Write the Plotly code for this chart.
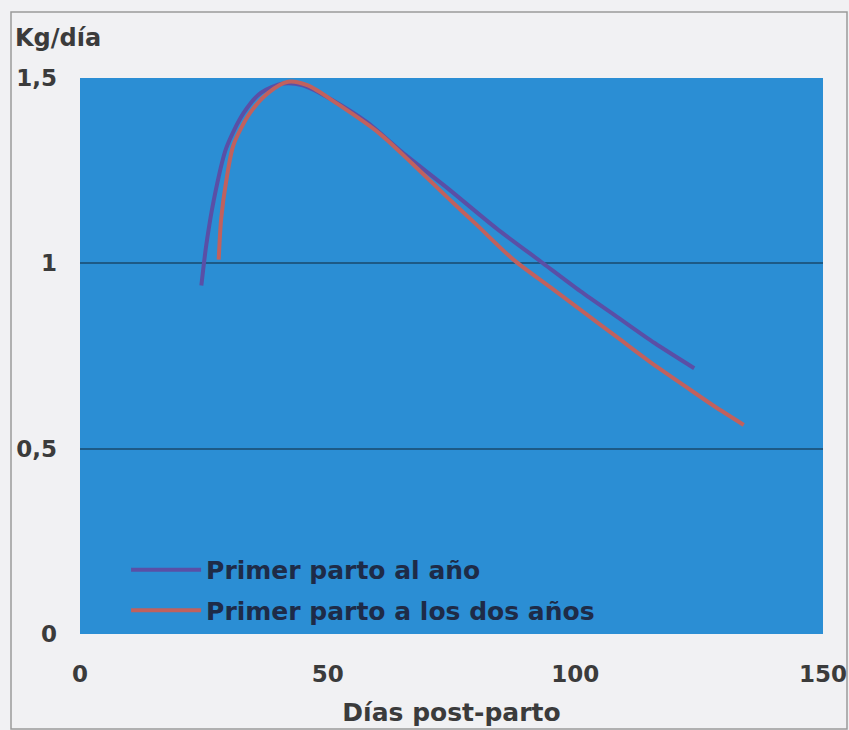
import plotly.graph_objects as go

# Data
dias_1 = [24.5, 25.5, 27, 29.5, 33, 36.5, 41, 45, 51, 58, 65, 74, 84, 93.5, 101, 108.5, 116, 124]
kg_1 = [0.94, 1.05, 1.17, 1.31, 1.405, 1.46, 1.485, 1.48, 1.44, 1.38, 1.30, 1.205, 1.095, 1.0, 0.925, 0.855, 0.785, 0.717]

dias_2 = [28, 28.5, 29.5, 31, 34.3, 38, 42, 46, 52, 60.5, 67, 74, 80, 87.5, 95, 102, 108.5, 115, 122, 128, 134]
kg_2 = [1.01, 1.12, 1.22, 1.32, 1.405, 1.46, 1.49, 1.48, 1.43, 1.35, 1.27, 1.18, 1.105, 1.01, 0.935, 0.865, 0.80, 0.735, 0.67, 0.615, 0.564]

name_1 = "Primer parto al año"
name_2 = "Primer parto a los dos años"

x_ticks = [0, 50, 100, 150]
y_ticks = [0, 0.5, 1, 1.5]
y_tick_text = ["0", "0,5", "1", "1,5"]

FONT = "DejaVu Sans"
TXT = "#3b3b3b"

fig = go.Figure()
fig.add_trace(go.Scatter(x=dias_1, y=kg_1, mode="lines", name=name_1,
                         line=dict(color="#5a4fa6", width=4, shape="spline", smoothing=0.8),
                         legendgroup="a"))
fig.add_trace(go.Scatter(x=dias_2, y=kg_2, mode="lines", name=name_2,
                         line=dict(color="#c0615e", width=4, shape="spline", smoothing=0.8),
                         legendgroup="b"))

fig.update_layout(
    width=849, height=730,
    margin=dict(l=80, r=26, t=78, b=96),
    paper_bgcolor="#f1f1f3",
    plot_bgcolor="#2b8ed4",
    font=dict(family=FONT, size=23, color=TXT),
    showlegend=True,
    legend=dict(x=0.062, y=0.002, xanchor="left", yanchor="bottom",
                bgcolor="rgba(0,0,0,0)", tracegroupgap=5, itemwidth=70,
                font=dict(family=FONT, size=25, color="#1e2b47", weight="bold")),
    xaxis=dict(range=[0, 150], tickvals=x_ticks, showgrid=False, zeroline=False,
               showline=False, ticks="", ticklabelstandoff=24, automargin=False,
               tickfont=dict(family=FONT, size=23, color=TXT, weight="bold"),
               title=dict(text="Días post-parto", standoff=17,
                          font=dict(family=FONT, size=25, color=TXT, weight="bold"))),
    yaxis=dict(range=[0, 1.5], tickvals=y_ticks, ticktext=y_tick_text,
               showgrid=True, gridcolor="#1d5a86", gridwidth=1.5, automargin=False,
               zeroline=False, showline=False, ticks="", ticklabelstandoff=22,
               tickfont=dict(family=FONT, size=23, color=TXT, weight="bold")),
    annotations=[dict(text="Kg/día", xref="paper", yref="paper",
                      x=(13 - 80) / 743, y=(634 - 38) / 556,
                      xanchor="left", yanchor="middle", showarrow=False,
                      font=dict(family=FONT, size=24, color=TXT, weight="bold"))],
    shapes=[dict(type="rect", xref="paper", yref="paper",
                 x0=(11 - 80) / 743, x1=(847 - 80) / 743,
                 y0=(634 - 729) / 556, y1=(634 - 12) / 556,
                 line=dict(color="#9a9a9a", width=1.5), layer="below")],
)

fig.write_html("out.html", config={"displayModeBar": False},
               post_script="document.body.style.margin='0px';document.body.style.overflow='hidden';")
